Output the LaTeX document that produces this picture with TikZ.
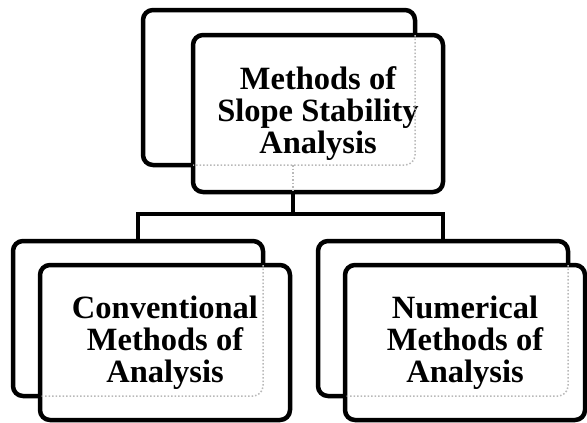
\documentclass[tikz,border=0pt]{standalone}
\usepackage{fontspec}
\setmainfont{Liberation Serif}
\usetikzlibrary{calc,backgrounds}

\tikzset{
  backbox/.style={draw, line width=4.5pt, rounded corners=10pt, fill=white,
    minimum width=250pt, minimum height=155pt, inner sep=0pt, outer sep=0pt},
  frontbox/.style={backbox, align=center, font=\bfseries\fontsize{32.5}{32}\selectfont},
  link/.style={line width=4.5pt},
  ghost/.style={gray!55, dotted, line width=1.5pt, rounded corners=10pt}
}

\begin{document}
\begin{tikzpicture}[x=1pt,y=-1pt]
    \useasboundingbox (0,0) rectangle (587,423);
    % Top pair of boxes
    \node[backbox, minimum width=272pt] (topback) at (279,87.5) {};
    \node[frontbox, minimum height=157pt] (topfront) at (318,113.5) {Methods of\\Slope Stability\\Analysis};
    % Lower pairs
    \node[backbox] (leftback) at (138,318.5) {};
    \node[frontbox] (leftfront) at (165,342.5) {Conventional\\Methods of\\Analysis};
    \node[backbox] (rightback) at (443,318.5) {};
    \node[frontbox, minimum width=240pt] (rightfront) at (465,342.5) {Numerical\\Methods of\\Analysis};
    % Connectors behind the boxes
    \coordinate (hub) at ($(topback.west)!.5!(topfront.east)$);
    \coordinate (split) at (0,214);
    \begin{pgfonlayer}{background}
      \draw[link] (hub |- topback.south) -- (hub |- split);
      \draw[link] (leftback.north) -- (leftback.north |- split)
        -- (rightback.north |- split) -- (rightback.north);
    \end{pgfonlayer}
    % Faint outlines seen through the front boxes
    \draw[ghost] (topback.east |- topfront.north) -- (topback.south east) -- (topback.south -| topfront.west);
    \draw[ghost] (leftback.east |- leftfront.north) -- (leftback.south east) -- (leftback.south -| leftfront.west);
    \draw[ghost] (rightback.east |- rightfront.north) -- (rightback.south east) -- (rightback.south -| rightfront.west);
    \draw[ghost] (hub |- topback.south) -- (hub |- topfront.south);
\end{tikzpicture}
\end{document}
